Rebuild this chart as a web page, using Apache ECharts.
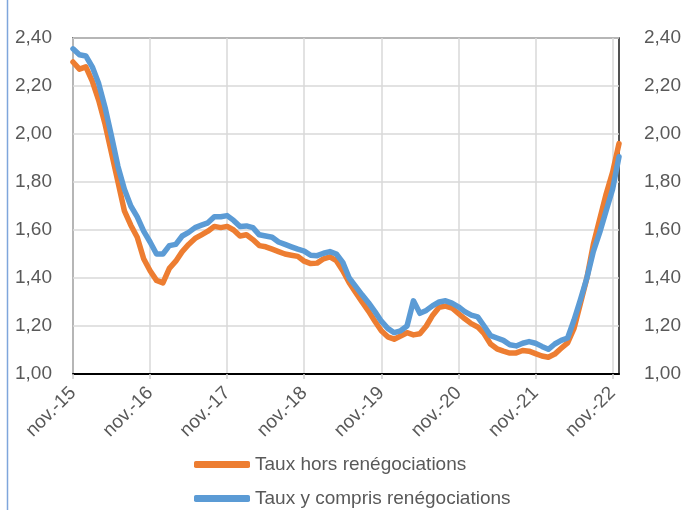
<!DOCTYPE html>
<html>
<head>
<meta charset="utf-8">
<script src="https://cdn.jsdelivr.net/npm/echarts@6/dist/echarts.min.js"></script>
<style>
html,body{margin:0;padding:0;background:#fff;}
#chart{width:686px;height:510px;}
</style>
</head>
<body>
<div id="chart"></div>
<script>
// Month abbreviations (French) and years for the category axis (Nov 2015 – Dec 2022)
var monthNames = ["janv.","févr.","mars","avr.","mai","juin","juil.","août","sept.","oct.","nov.","déc."];
var startMonthIndex = 10;   // novembre
var startYear = 15;
var monthCount = 86;

// Taux hors renégociations (%)
var tauxHors = [
  2.30, 2.27, 2.28, 2.22, 2.14, 2.04, 1.92, 1.80, 1.68, 1.62, 1.57, 1.48,
  1.43, 1.39, 1.38, 1.44, 1.47, 1.51, 1.54, 1.565, 1.58, 1.595, 1.615, 1.61,
  1.615, 1.60, 1.575, 1.58, 1.56, 1.535, 1.53, 1.52, 1.51, 1.50, 1.495, 1.49,
  1.47, 1.46, 1.462, 1.48, 1.488, 1.472, 1.43, 1.38, 1.34, 1.30, 1.262, 1.22,
  1.18, 1.155, 1.145, 1.158, 1.172, 1.163, 1.168, 1.20, 1.245, 1.278, 1.283, 1.275,
  1.252, 1.23, 1.21, 1.196, 1.168, 1.125, 1.105, 1.095, 1.087, 1.088, 1.098, 1.095,
  1.085, 1.075, 1.07, 1.083, 1.107, 1.13, 1.19, 1.295, 1.40, 1.54, 1.645, 1.75,
  1.84, 1.96
];

// Taux y compris renégociations (%)
var tauxYCompris = [
  2.355, 2.33, 2.325, 2.28, 2.21, 2.11, 1.99, 1.865, 1.77, 1.70, 1.655, 1.595,
  1.55, 1.50, 1.50, 1.535, 1.54, 1.575, 1.59, 1.61, 1.62, 1.63, 1.655, 1.655,
  1.66, 1.64, 1.615, 1.617, 1.61, 1.58, 1.575, 1.57, 1.55, 1.54, 1.53, 1.52,
  1.512, 1.495, 1.493, 1.503, 1.51, 1.50, 1.465, 1.40, 1.365, 1.33, 1.297, 1.26,
  1.22, 1.19, 1.172, 1.18, 1.20, 1.305, 1.253, 1.265, 1.285, 1.30, 1.305, 1.295,
  1.28, 1.26, 1.245, 1.238, 1.20, 1.16, 1.15, 1.14, 1.122, 1.117, 1.128, 1.135,
  1.128, 1.115, 1.103, 1.125, 1.14, 1.15, 1.225, 1.31, 1.40, 1.51, 1.59, 1.68,
  1.77, 1.905
];

var seriesNames = ["Taux hors renégociations", "Taux y compris renégociations"];

var categories = [];
for (var k = 0; k < monthCount; k++) {
  var m = (startMonthIndex + k) % 12;
  var y = startYear + Math.floor((startMonthIndex + k) / 12);
  categories.push(monthNames[m] + "-" + y);
}

var fontFamily = "'Liberation Sans', Arial, sans-serif";
var textColor = "#595959";
function fmt(v) { return v.toFixed(2).replace(".", ","); }

var legendText = {fontFamily: fontFamily, fontSize: 19, color: textColor};

var chart = echarts.init(document.getElementById("chart"), null, {renderer: "canvas"});
chart.setOption({
  animation: false,
  backgroundColor: "#ffffff",
  grid: {
    left: 73, right: 67, top: 38, bottom: 136,
    show: true, borderColor: "#1a1a1a", borderWidth: 1.5, backgroundColor: "transparent"
  },
  legend: [
    {
      left: 189, top: 450, itemWidth: 56, itemHeight: 7, icon: "roundRect",
      data: [seriesNames[0]], textStyle: legendText
    },
    {
      left: 189, top: 484, itemWidth: 56, itemHeight: 7, icon: "roundRect",
      data: [seriesNames[1]], textStyle: legendText
    }
  ],
  xAxis: {
    type: "category",
    boundaryGap: false,
    data: categories,
    axisLine: {show: true, lineStyle: {color: "#000", width: 2}},
    axisTick: {show: true, interval: 11, length: 5, lineStyle: {color: "#d0d0d0", width: 1.5}},
    splitLine: {show: true, interval: 11, lineStyle: {color: "#d9d9d9", width: 1.5}},
    axisLabel: {
      interval: 11, rotate: 45, margin: 16,
      fontFamily: fontFamily, fontSize: 19, color: textColor
    }
  },
  yAxis: [
    {
      type: "value", min: 1, max: 2.4, interval: 0.2,
      axisLine: {show: false}, axisTick: {show: false},
      splitLine: {show: true, lineStyle: {color: "#d9d9d9", width: 1.5}},
      axisLabel: {margin: 21, fontFamily: fontFamily, fontSize: 19, color: textColor, formatter: fmt}
    },
    {
      type: "value", min: 1, max: 2.4, interval: 0.2, position: "right",
      axisLine: {show: false}, axisTick: {show: false}, splitLine: {show: false},
      axisLabel: {margin: 25, fontFamily: fontFamily, fontSize: 19, color: textColor, formatter: fmt}
    }
  ],
  series: [
    {
      name: seriesNames[0], type: "line", data: tauxHors, showSymbol: false, symbol: "none",
      color: "#ED7D31",
      lineStyle: {color: "#ED7D31", width: 5.5, cap: "round", join: "round"},
      z: 2
    },
    {
      name: seriesNames[1], type: "line", data: tauxYCompris, showSymbol: false, symbol: "none",
      color: "#5B9BD5",
      lineStyle: {color: "#5B9BD5", width: 5.5, cap: "round", join: "round"},
      z: 3
    }
  ],
  graphic: [
    {type: "line", shape: {x1: 7.5, y1: 0, x2: 7.5, y2: 510}, style: {stroke: "#7FA6DC", lineWidth: 1.5}, silent: true}
  ]
});
</script>
</body>
</html>
